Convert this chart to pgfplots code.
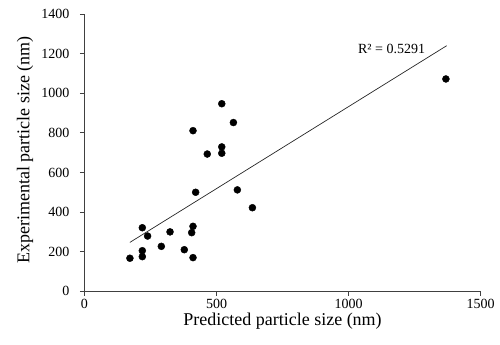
\documentclass[border=0pt]{standalone}
\usepackage{fontspec}
\setmainfont{Liberation Serif}
\usepackage{pgfplots}
\pgfplotsset{compat=1.18}
\begin{document}
\begin{tikzpicture}
\path[use as bounding box] (-84.5bp,-53.7bp) rectangle (415.5bp,291.3bp);
\begin{axis}[
  at={(0,0)}, anchor=south west,
  scale only axis, width=396bp, height=277.3bp,
  xmin=0, xmax=1500, ymin=0, ymax=1400,
  xtick={0,500,1000,1500}, ytick={0,200,...,1400},
  axis lines=left, axis line style={black!75, line width=0.8bp, -},
  tick style={black!75, line width=0.8bp},
  tick align=outside, major tick length=4.5bp,
  minor tick num=0,
  /pgf/number format/assume math mode=true,
  /pgf/number format/1000 sep={},
  tick label style={font=\fontsize{14bp}{16bp}\selectfont},
  xticklabel style={inner sep=0pt, yshift=-3bp},
  yticklabel style={xshift=-7bp},
  xlabel={Predicted particle size (nm)},
  ylabel={Experimental particle size (nm)},
  label style={font=\fontsize{18bp}{20bp}\selectfont, inner sep=0pt},
  xlabel style={at={(axis description cs:0.5,-0.123)}, anchor=base},
  ylabel style={at={(axis description cs:-0.1394,0.51)}, anchor=base},
  clip=false,
]
\addplot[only marks, mark=*, mark size=3.5bp, black] coordinates {
(172,167) (219,175) (219,205) (219,321) (239,279) (291,227) (324,300)
(378,210) (411,170) (406,296) (411,328) (421,500) (411,811) (465,693)
(520,697) (520,729) (520,947) (564,852) (579,512) (636,422) (1369,1072)
};
\addplot[black!85, line width=0.7bp] coordinates {(172,247) (1372,1240)};
\node[anchor=base, font=\fontsize{14bp}{16bp}\selectfont] at (axis cs:1163,1203) {R² = 0.5291};
\end{axis}
\end{tikzpicture}
\end{document}
